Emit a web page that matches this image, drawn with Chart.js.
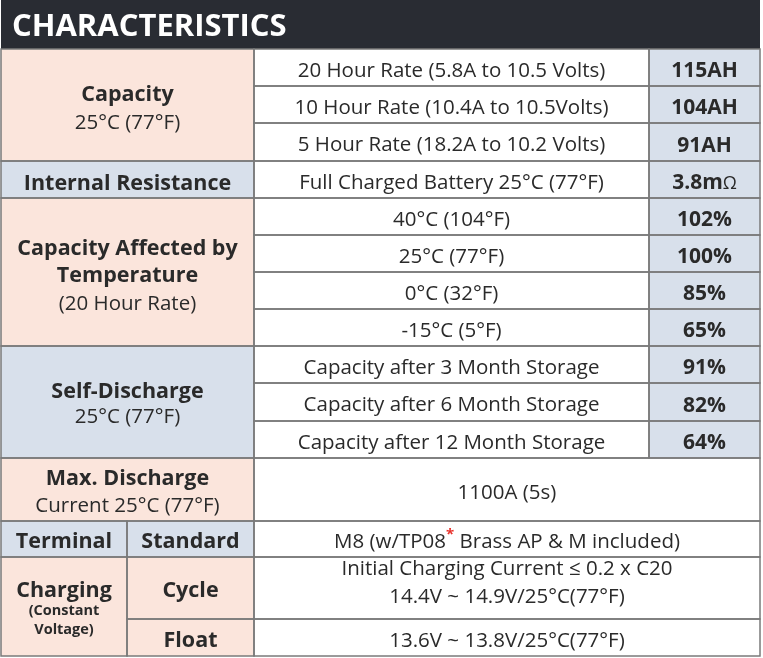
<!DOCTYPE html>
<html><head><meta charset="utf-8">
<script src="https://cdn.jsdelivr.net/npm/chart.js@4"></script>
<style>html,body{margin:0;padding:0;background:#fff}#wrap{width:763px;height:658px;position:relative}</style>
</head><body><div id="wrap"><canvas id="c"></canvas></div>
<script>
// ---- data ----
const title = 'CHARACTERISTICS';
const groupNames = ['Capacity', 'Internal Resistance', 'Capacity Affected by|Temperature', 'Self-Discharge', 'Max. Discharge'];
const groupNotes = ['25°C (77°F)', '', '(20 Hour Rate)', '25°C (77°F)', 'Current 25°C (77°F)'];
const conditions = [
  '20 Hour Rate (5.8A to 10.5 Volts)',
  '10 Hour Rate (10.4A to 10.5Volts)',
  '5 Hour Rate (18.2A to 10.2 Volts)',
  'Full Charged Battery 25°C (77°F)',
  '40°C (104°F)',
  '25°C (77°F)',
  '0°C (32°F)',
  '-15°C (5°F)',
  'Capacity after 3 Month Storage',
  'Capacity after 6 Month Storage',
  'Capacity after 12 Month Storage'
];
const values = ['115AH', '104AH', '91AH', '3.8mΩ', '102%', '100%', '85%', '65%', '91%', '82%', '64%'];
const maxDischarge = '1100A (5s)';
const terminalLabels = ['Terminal', 'Standard'];
const terminalSpec = ['M8 (w/TP08', '*', ' Brass AP & M included)'];
const chargingLabels = ['Charging', '(Constant', 'Voltage)'];
const chargingModes = ['Cycle', 'Float'];
const cycleSpec = ['Initial Charging Current ≤ 0.2 x C20', '14.4V ~ 14.9V/25°C(77°F)'];
const floatSpec = ['13.6V ~ 13.8V/25°C(77°F)'];

// ---- layout (scale units) ----
const colEdges = [1, 127, 254, 649, 760];
const rowEdges = [0, 49, 86, 123, 161, 198, 235, 272, 309, 346, 383, 421, 458, 521, 557, 619, 656];
const groupRows = [[1, 4], [4, 5], [5, 9], [9, 12], [12, 13]];
const groupFill = ['peach', 'blue', 'peach', 'blue', 'peach'];

const COL = { dark: '#292c33', peach: '#fbe5dc', blue: '#d8e0eb', white: '#ffffff', line: '#7a7a7a', text: '#2a2a2a', red: '#e8302a' };
const FONT = '"Open Sans", "DejaVu Sans", sans-serif';
const REG = 20.5, BOLD = 21.5, VAL = 21;

function seg(t, w, s, extra) { return Object.assign({ t: t, w: w, s: s }, extra || {}); }

// build cell list from data
const cells = [];
cells.push({ c: [0, 4], r: [0, 1], fill: 'dark', align: 'left', lines: [{ dy: 11, segs: [seg(title, 700, 31, { color: '#ffffff' })] }] });

groupNames.forEach((name, i) => {
  const names = name.split('|');
  const lines = [];
  const n = names.length + (groupNotes[i] ? 1 : 0);
  const sp = 27.5;
  names.forEach((nm, k) => lines.push({ dy: 10 + (k - (n - 1) / 2) * sp, segs: [seg(nm, 700, BOLD)] }));
  if (groupNotes[i]) lines.push({ dy: 10 + (names.length - (n - 1) / 2) * sp, segs: [seg(groupNotes[i], 400, REG)] });
  if (i === 4) { lines[0].dy = -4.5; lines[1].dy = 22.2; }
  if (i === 3) { lines[0].dy = -3.7; lines[1].dy = 21.3; }
  cells.push({ c: [0, 2], r: groupRows[i], fill: groupFill[i], lines: lines });
});

conditions.forEach((t, i) => {
  cells.push({ c: [2, 3], r: [i + 1, i + 2], fill: 'white', lines: [{ dy: 9.2, segs: [seg(t, 400, REG)] }] });
  const v = values[i];
  let segs;
  if (v.endsWith('Ω')) segs = [seg(v.slice(0, -1), 700, VAL), seg('Ω', 400, 18)];
  else segs = [seg(v, 700, VAL)];
  cells.push({ c: [3, 4], r: [i + 1, i + 2], fill: 'blue', lines: [{ dy: 9.5, segs: segs }] });
});

cells.push({ c: [2, 4], r: [12, 13], fill: 'white', lines: [{ dy: 9.2, segs: [seg(maxDischarge, 400, REG)] }] });
cells.push({ c: [0, 1], r: [13, 14], fill: 'blue', lines: [{ dy: 9.3, segs: [seg(terminalLabels[0], 700, BOLD)] }] });
cells.push({ c: [1, 2], r: [13, 14], fill: 'blue', lines: [{ dy: 9.3, segs: [seg(terminalLabels[1], 700, BOLD)] }] });
cells.push({ c: [2, 4], r: [13, 14], fill: 'white', lines: [{ dy: 9.3, segs: [seg(terminalSpec[0], 400, REG), seg(terminalSpec[1], 700, 15, { color: COL.red, rise: 9 }), seg(terminalSpec[2], 400, REG)] }] });
cells.push({ c: [0, 1], r: [14, 16], fill: 'peach', lines: [
  { dy: -9.8, segs: [seg(chargingLabels[0], 700, BOLD)] },
  { dy: 8.5, segs: [seg(chargingLabels[1], 700, 14.5)] },
  { dy: 27.5, segs: [seg(chargingLabels[2], 700, 14.5)] }
] });
cells.push({ c: [1, 2], r: [14, 15], fill: 'peach', lines: [{ dy: 8.7, segs: [seg(chargingModes[0], 700, BOLD)] }] });
cells.push({ c: [1, 2], r: [15, 16], fill: 'peach', lines: [{ dy: 9.2, segs: [seg(chargingModes[1], 700, BOLD)] }] });
cells.push({ c: [2, 4], r: [14, 15], fill: 'white', lines: [
  { dy: -13, segs: [seg(cycleSpec[0], 400, REG)] },
  { dy: 15.3, segs: [seg(cycleSpec[1], 400, REG)] }
] });
cells.push({ c: [2, 4], r: [15, 16], fill: 'white', lines: [{ dy: 9.2, segs: [seg(floatSpec[0], 400, REG)] }] });

const tablePlugin = {
  id: 'tablePlugin',
  afterDraw(chart) {
    const ctx = chart.ctx, xs = chart.scales.x, ys = chart.scales.y;
    const X = v => xs.getPixelForValue(v), Y = v => ys.getPixelForValue(v);
    ctx.save();
    ctx.fillStyle = '#ffffff';
    ctx.fillRect(0, 0, chart.width, chart.height);
    cells.forEach(cl => {
      const x0 = X(colEdges[cl.c[0]]), x1 = X(colEdges[cl.c[1]]);
      const y0 = Y(rowEdges[cl.r[0]]), y1 = Y(rowEdges[cl.r[1]]);
      ctx.fillStyle = COL[cl.fill];
      ctx.fillRect(x0, y0, x1 - x0, y1 - y0);
    });
    ctx.strokeStyle = COL.line;
    ctx.lineWidth = 1.5;
    cells.forEach(cl => {
      if (cl.fill === 'dark') return;
      const x0 = X(colEdges[cl.c[0]]), x1 = X(colEdges[cl.c[1]]);
      const y0 = Y(rowEdges[cl.r[0]]), y1 = Y(rowEdges[cl.r[1]]);
      ctx.strokeRect(x0, y0, x1 - x0, y1 - y0);
    });
    ctx.textBaseline = 'alphabetic';
    ctx.textAlign = 'left';
    cells.forEach(cl => {
      const x0 = X(colEdges[cl.c[0]]), x1 = X(colEdges[cl.c[1]]);
      const cy = (Y(rowEdges[cl.r[0]]) + Y(rowEdges[cl.r[1]])) / 2;
      cl.lines.forEach(ln => {
        let total = 0;
        ln.segs.forEach(s => { ctx.font = s.w + ' ' + s.s + 'px ' + FONT; s.width = ctx.measureText(s.t).width; total += s.width; });
        let x = cl.align === 'left' ? x0 + 11 : (x0 + x1) / 2 - total / 2;
        ln.segs.forEach(s => {
          ctx.font = s.w + ' ' + s.s + 'px ' + FONT;
          ctx.fillStyle = s.color || COL.text;
          ctx.fillText(s.t, x, cy + ln.dy - (s.rise || 0));
          x += s.width;
        });
      });
    });
    ctx.restore();
  }
};

new Chart(document.getElementById('c'), {
  type: 'scatter',
  data: { datasets: [{ data: [], showLine: false }] },
  options: {
    responsive: true, maintainAspectRatio: false, animation: false,
    layout: { padding: 0 },
    plugins: { legend: { display: false }, tooltip: { enabled: false } },
    scales: {
      x: { type: 'linear', min: 0, max: 763, display: false },
      y: { type: 'linear', min: 0, max: 658, reverse: true, display: false }
    }
  },
  plugins: [tablePlugin]
});
</script></body></html>
